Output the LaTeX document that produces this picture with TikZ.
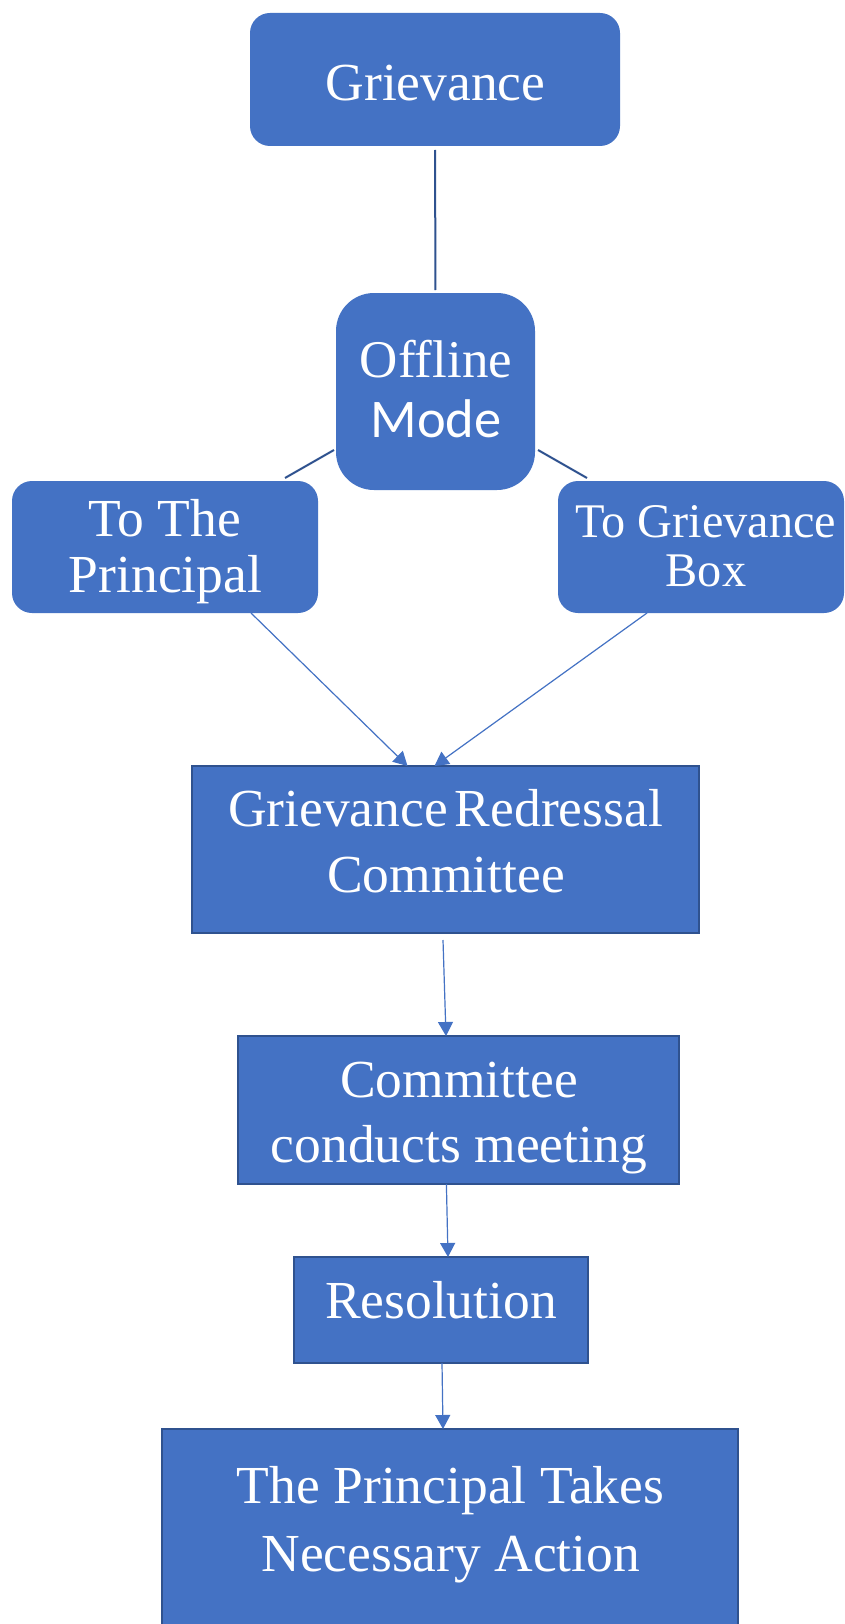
\documentclass[tikz,border=0pt]{standalone}
\usepackage{fontspec}
\setmainfont{Liberation Serif}
\newfontfamily\calib{Carlito}
\usetikzlibrary{arrows.meta,calc}
\definecolor{boxblue}{HTML}{4472C4}
\definecolor{darkblue}{HTML}{2F528F}
\tikzset{
  rbox/.style={draw=none, fill=boxblue, rounded corners=20pt, inner sep=0pt, outer sep=0pt},
  sbox/.style={draw=darkblue, line width=2pt, fill=boxblue, inner sep=0pt, outer sep=0pt},
  lbl/.style={text=white, inner sep=0pt, anchor=base, font=\fontsize{53.5}{60}\selectfont},
  lblsm/.style={lbl, font=\fontsize{48.3}{55}\selectfont},
  link/.style={draw=darkblue, line width=2pt},
  flow/.style={draw=boxblue, line width=1.2pt, -{Triangle[length=14pt,width=15pt]}}
}
\begin{document}
\begin{tikzpicture}[x=1pt,y=-1pt]
\useasboundingbox (0,0) rectangle (844,1624);
\clip (0,0) rectangle (844,1624);
\fill[white] (0,0) rectangle (844,1624);
% boxes
\node[rbox, minimum width=370pt, minimum height=133pt] (g) at (435,79.5) {};
\node[rbox, rounded corners=38pt, minimum width=199pt, minimum height=197pt] (om) at (435.5,391.5) {};
\node[rbox, minimum width=306pt, minimum height=132pt] (tp) at (165,547) {};
\node[rbox, minimum width=286pt, minimum height=132pt] (tg) at (701,547) {};
\node[sbox, minimum width=507.5pt, minimum height=167pt] (grc) at (445.25,849.5) {};
\node[sbox, minimum width=441pt, minimum height=148pt] (ccm) at (458.5,1110) {};
\node[sbox, minimum width=294.4pt, minimum height=106pt] (res) at (440.8,1310) {};
\node[sbox, minimum width=576pt, minimum height=231pt] (fin) at (450,1544.5) {};
% texts
\node[lbl] (t1) at (435.5,101) {Grievance};
\node[lbl, font=\fontsize{53}{60}\selectfont] (t2a) at (436,377) {Offline};
\node[lbl, font=\calib\fontsize{54.5}{60}\selectfont] (t2b) at (436,437) {Mode};
\node[lbl] (t3a) at (165,536) {To The};
\node[lbl] (t3b) at (165.5,592) {Principal};
\node[lblsm] (t4a) at (706,537) {To Grievance};
\node[lblsm] (t4b) at (706,586) {Box};
\node[lbl] (t5a) at (445.5,826) {Grievance\hspace{-0.12em}~Redressal};
\node[lbl] (t5b) at (446,892) {Committee};
\node[lbl] (t6a) at (459,1097) {Committee};
\node[lbl] (t6b) at (458.8,1162) {conducts meeting};
\node[lbl] (t7) at (441,1318) {Resolution};
\node[lbl] (t8a) at (450.5,1503) {The Principal Takes};
\node[lbl] (t8b) at (450.8,1571) {Necessary Action};
% connectors
\draw[link, shorten <=4pt, shorten >=3pt] (g.south) -- (om.north);
\draw[link] ($(om.south west)+(-2,-40)$) -- ($(tp.north west)+(273,-3)$);
\draw[link] ($(om.south east)+(3,-40)$) -- ($(tg.north west)+(29,-3)$);
\draw[flow] ($(tp.south west)+(239,0)$) -- ($(grc.north west)+(216,0)$);
\draw[flow] ($(tg.south west)+(89,0)$) -- ($(grc.north west)+(243,0)$);
\draw[flow] ($(grc.south west)+(251.5,7)$) -- ($(ccm.north west)+(208,0)$);
\draw[flow] ($(ccm.south west)+(208.4,0)$) -- ($(res.north west)+(154.4,0)$);
\draw[flow] ($(res.south west)+(148.4,0)$) -- ($(fin.north west)+(281,0)$);
\end{tikzpicture}
\end{document}
